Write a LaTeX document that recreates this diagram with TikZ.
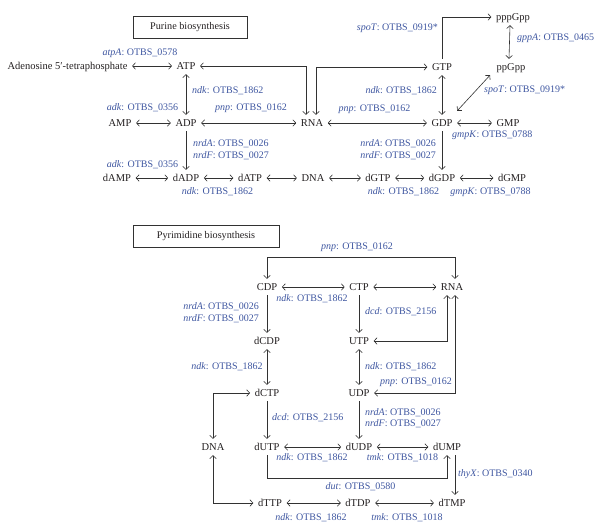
\documentclass[tikz,border=0pt]{standalone}
\usepackage{fontspec}
\setmainfont{Liberation Serif}
\usetikzlibrary{arrows.meta}
\definecolor{labblue}{RGB}{62,86,160}
\definecolor{txt}{RGB}{35,31,32}
\definecolor{ln}{RGB}{50,50,50}
\newcommand\enz[2]{\textit{#1}: OTBS\_#2}
\begin{document}
\begin{tikzpicture}[x=1pt,y=-1pt,
  font=\fontsize{10}{12}\selectfont,
  >={Straight Barb[length=3pt,width=6.5pt]},
  mol/.style={text=txt,font=\fontsize{10.5}{12}\selectfont,inner xsep=4.5pt,inner ysep=4pt,text height=7pt,text depth=1pt},
  lab/.style={text=labblue,inner sep=0pt,text height=7pt,text depth=2pt},
  conn/.style={draw=ln,line width=0.6pt},
  titlebox/.style={draw=ln,line width=0.6pt,text=txt,font=\fontsize{10.2}{12}\selectfont,minimum width=114pt,minimum height=22pt,inner sep=0pt}]
\useasboundingbox (0,0) rectangle (601,530);
% ---------- Purine ----------
\node[titlebox] (pbox) at (190,27) {Purine biosynthesis};
\node[mol] (aden) at (67.5,66) {Adenosine 5′-tetraphosphate};
\node[mol] (ATP) at (186,66) {ATP};
\node[mol] (AMP) at (120,123) {AMP};
\node[mol] (ADP) at (186,123) {ADP};
\node[mol] (RNAa) at (312,123) {RNA};
\node[mol] (GTP) at (442,67) {GTP};
\node[mol] (GDP) at (442,123) {GDP};
\node[mol] (GMP) at (508,123) {GMP};
\node[mol] (pppGpp) at (513,17) {pppGpp};
\node[mol] (ppGpp) at (511,67) {ppGpp};
\node[mol] (dAMP) at (117,178) {dAMP};
\node[mol] (dADP) at (186,178) {dADP};
\node[mol] (dATP) at (250,178) {dATP};
\node[mol] (DNAa) at (313,178) {DNA};
\node[mol] (dGTP) at (378,178) {dGTP};
\node[mol] (dGDP) at (442,178) {dGDP};
\node[mol] (dGMP) at (512,178) {dGMP};

\draw[conn,<->] (aden) -- (ATP);
\draw[conn,<->] (ATP) -- (ADP);
\draw[conn,<->] (AMP) -- (ADP);
\draw[conn,<->] (ADP) -- (RNAa);
\draw[conn,->] (ADP) -- (dADP);
\draw[conn,<->] (ATP.east) -| ([xshift=-6pt]RNAa.north);
\draw[conn,<->] ([xshift=4pt]RNAa.north) |- (GTP.west);
\draw[conn,<->] (RNAa) -- (GDP);
\draw[conn,<->] (GTP) -- (GDP);
\draw[conn,->] (GTP.north) |- (pppGpp.west);
\draw[conn,<->] ([xshift=-3pt]pppGpp.south) -- ([xshift=-2pt]ppGpp.north);
\draw[conn,<->] ([xshift=-2pt]ppGpp.south west) -- ([yshift=4pt]GDP.north east);
\draw[conn,<->] (GDP) -- (GMP);
\draw[conn,->] (GDP) -- (dGDP);
\draw[conn,<->] (dAMP) -- (dADP);
\draw[conn,<->] (dADP) -- (dATP);
\draw[conn,<->] (dATP) -- (DNAa);
\draw[conn,<->] (DNAa) -- (dGTP);
\draw[conn,<->] (dGTP) -- (dGDP);
\draw[conn,<->] (dGDP) -- (dGMP);

\node[lab] (l1) at (140,53) {\enz{atpA}{0578}};
\node[lab,anchor=west] (l2) at (192,91) {\enz{ndk}{1862}};
\node[lab] (l3) at (142.5,108) {\enz{adk}{0356}};
\node[lab] (l4) at (251,108) {\enz{pnp}{0162}};
\node[lab] (l5) at (374.5,109) {\enz{pnp}{0162}};
\node[lab,anchor=east] (l6) at (437,91) {\enz{ndk}{1862}};
\node[lab,anchor=east] (l7) at (438,28) {\enz{spoT}{0919*}};
\node[lab,anchor=west] (l8) at (517,38) {\enz{gppA}{0465}};
\node[lab,anchor=west] (l9) at (484,90) {\enz{spoT}{0919*}};
\node[lab,anchor=west] (l10) at (452,135) {\enz{gmpK}{0788}};
\node[lab,anchor=west] (l11) at (193,144) {\enz{nrdA}{0026}};
\node[lab,anchor=west] (l12) at (193,156) {\enz{nrdF}{0027}};
\node[lab,anchor=east] (l13) at (436,144) {\enz{nrdA}{0026}};
\node[lab,anchor=east] (l14) at (436,156) {\enz{nrdF}{0027}};
\node[lab] (l15) at (142.5,165) {\enz{adk}{0356}};
\node[lab] (l16) at (217.5,192) {\enz{ndk}{1862}};
\node[lab] (l17) at (403.5,192) {\enz{ndk}{1862}};
\node[lab] (l18) at (490.5,192) {\enz{gmpK}{0788}};

% ---------- Pyrimidine ----------
\node[titlebox,minimum width=146pt] (ybox) at (206,236) {Pyrimidine biosynthesis};
\node[mol] (CDP) at (267,287) {CDP};
\node[mol] (CTP) at (359,287) {CTP};
\node[mol] (RNAb) at (452,287) {RNA};
\node[mol] (dCDP) at (267,341) {dCDP};
\node[mol] (UTP) at (359,341) {UTP};
\node[mol] (dCTP) at (267,393) {dCTP};
\node[mol] (UDP) at (359,393) {UDP};
\node[mol] (DNAb) at (213,447) {DNA};
\node[mol] (dUTP) at (267,447) {dUTP};
\node[mol] (dUDP) at (359,447) {dUDP};
\node[mol] (dUMP) at (447,447) {dUMP};
\node[mol] (dTTP) at (270,503) {dTTP};
\node[mol] (dTDP) at (358,503) {dTDP};
\node[mol] (dTMP) at (452,503) {dTMP};

\coordinate (ctop) at (267,257);
\draw[conn,<->] (CDP.north) -- (ctop) -| ([xshift=3pt]RNAb.north);
\draw[conn,<->] (CDP) -- (CTP);
\draw[conn,<->] (CTP) -- (RNAb);
\draw[conn,->] (CDP) -- (dCDP);
\draw[conn,->] (CTP) -- (UTP);
\draw[conn,<->] (UTP.east) -| ([xshift=-5pt]RNAb.south);
\draw[conn,<->] (UDP.east) -| ([xshift=3pt]RNAb.south);
\draw[conn,<->] (dCDP) -- (dCTP);
\draw[conn,<->] (UTP) -- (UDP);
\draw[conn,<->] (dCTP.west) -| (DNAb.north);
\draw[conn,->] (dCTP) -- (dUTP);
\draw[conn,->] (UDP) -- (dUDP);
\draw[conn,<->] (dUTP) -- (dUDP);
\draw[conn,<->] (dUDP) -- (dUMP);
\coordinate (dutc) at (267,478);
\draw[conn,->] (dUTP.south) -- (dutc) -| (dUMP.south);
\draw[conn,->] ([xshift=8pt]dUMP.south) -- ([xshift=8pt]dUMP.south |- dTMP.north);
\draw[conn,<->] (DNAb.south) |- (dTTP.west);
\draw[conn,<->] (dTTP) -- (dTDP);
\draw[conn,<->] (dTDP) -- (dTMP);

\node[lab] (m1) at (357,247) {\enz{pnp}{0162}};
\node[lab] (m2) at (312,299) {\enz{ndk}{1862}};
\node[lab,anchor=east] (m3) at (259,307) {\enz{nrdA}{0026}};
\node[lab,anchor=east] (m4) at (259,319) {\enz{nrdF}{0027}};
\node[lab,anchor=west] (m5) at (365,312) {\enz{dcd}{2156}};
\node[lab] (m6) at (227,367) {\enz{ndk}{1862}};
\node[lab,anchor=west] (m7) at (365,367) {\enz{ndk}{1862}};
\node[lab,anchor=west] (m8) at (380,382) {\enz{pnp}{0162}};
\node[lab,anchor=west] (m9) at (272,418) {\enz{dcd}{2156}};
\node[lab,anchor=west] (m10) at (365,413) {\enz{nrdA}{0026}};
\node[lab,anchor=west] (m11) at (365,424) {\enz{nrdF}{0027}};
\node[lab] (m12) at (312,458) {\enz{ndk}{1862}};
\node[lab] (m13) at (402.5,458) {\enz{tmk}{1018}};
\node[lab] (m14) at (360.5,487) {\enz{dut}{0580}};
\node[lab,anchor=west] (m15) at (458,474) {\enz{thyX}{0340}};
\node[lab] (m16) at (311,518) {\enz{ndk}{1862}};
\node[lab] (m17) at (407,518) {\enz{tmk}{1018}};
\end{tikzpicture}
\end{document}
